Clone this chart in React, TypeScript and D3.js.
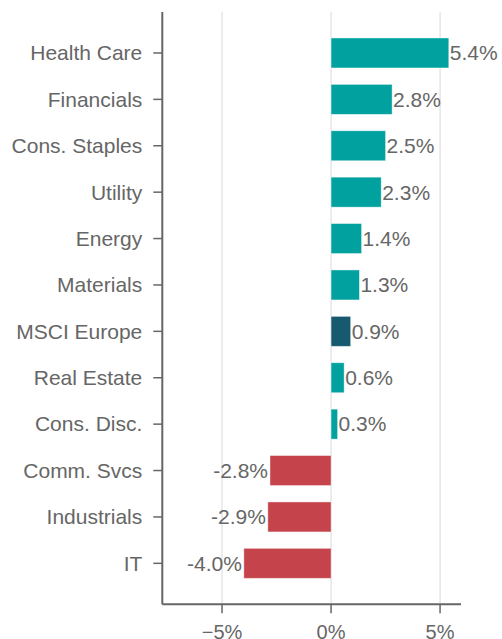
import React from "react";
import * as d3 from "d3";

const categories = ["Health Care","Financials","Cons. Staples","Utility","Energy","Materials","MSCI Europe","Real Estate","Cons. Disc.","Comm. Svcs","Industrials","IT"];
const values = [5.4,2.8,2.5,2.3,1.4,1.3,0.9,0.6,0.3,-2.8,-2.9,-4.0];
const labels = ["5.4%","2.8%","2.5%","2.3%","1.4%","1.3%","0.9%","0.6%","0.3%","-2.8%","-2.9%","-4.0%"];
const xTicks = [-5,0,5];
const xTickLabels = ["\u22125%","0%","5%"];
const highlight = "MSCI Europe";

const W = 502, H = 639;
const left = 162.3, right = 461, top = 12, bottom = 604.3;

export default function App() {
  const x = d3.scaleLinear().domain([-7.74, 5.96]).range([left, right]);
  const y = d3.scaleBand<string>().domain(categories).range([top, bottom]).paddingInner(0.354).paddingOuter(0.56);
  const font = "'Liberation Sans', Arial, sans-serif";
  const txt = "#666666";
  const axisC = "#666666";
  const color = (c: string, v: number) => c === highlight ? "#175a70" : v >= 0 ? "#00a19f" : "#c5444c";
  return (
    <svg width={W} height={H} style={{ position: "absolute", left: 0, top: 0, background: "#fff" }}>
      {xTicks.map((t) => (
        <line key={"g" + t} x1={x(t)} x2={x(t)} y1={top} y2={bottom} stroke="#d9d9d9" strokeWidth={1} />
      ))}
      {categories.map((c, i) => {
        const v = values[i];
        const x0 = x(Math.min(0, v)), x1 = x(Math.max(0, v));
        const yy = y(c)!;
        const bw = y.bandwidth();
        return (
          <g key={c}>
            <rect x={x0} y={yy} width={x1 - x0} height={bw} fill={color(c, v)} stroke="#ffffff" strokeOpacity={0.5} strokeWidth={0.8} />
            <text x={v >= 0 ? x1 + 1 : x0 - 2} y={yy + bw / 2} dy="0.35em" textAnchor={v >= 0 ? "start" : "end"} fontFamily={font} fontSize={21} fill={txt}>{labels[i]}</text>
            <line x1={left - 9} x2={left} y1={yy + bw / 2} y2={yy + bw / 2} stroke={axisC} strokeWidth={1.5} />
            <text x={left - 20} y={yy + bw / 2} dy="0.35em" textAnchor="end" fontFamily={font} fontSize={21} fill={txt}>{c}</text>
          </g>
        );
      })}
      <line x1={left} x2={left} y1={top} y2={bottom} stroke={axisC} strokeWidth={2} />
      <line x1={left} x2={right} y1={bottom} y2={bottom} stroke={axisC} strokeWidth={2} />
      {xTicks.map((t, i) => (
        <g key={"t" + t}>
          <line x1={x(t)} x2={x(t)} y1={bottom} y2={bottom + 9} stroke={axisC} strokeWidth={1.5} />
          <text x={x(t)} y={bottom + 28} dy="0.35em" textAnchor="middle" fontFamily={font} fontSize={20} fill={txt}>{xTickLabels[i]}</text>
        </g>
      ))}
    </svg>
  );
}
